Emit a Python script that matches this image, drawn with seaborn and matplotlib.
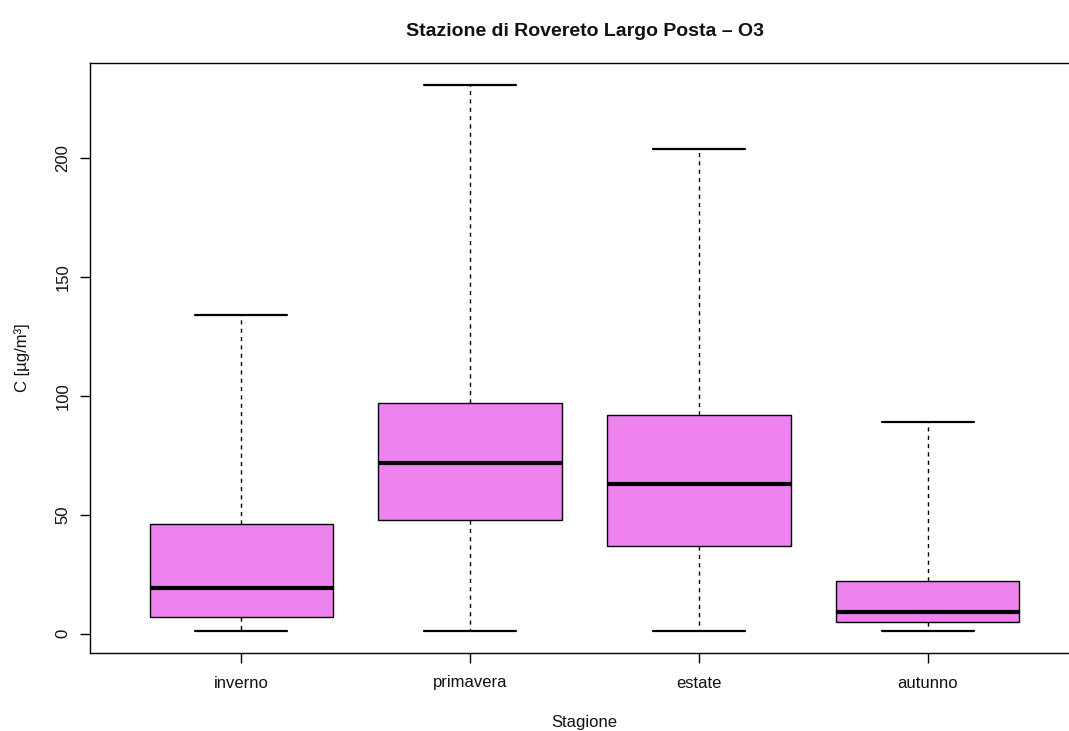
import pandas as pd
import matplotlib.pyplot as plt
import seaborn as sns

# Riassunto a cinque numeri per stagione (O3, µg/m³)
stagioni = ['inverno', 'primavera', 'estate', 'autunno']
minimi = [1, 1, 1, 1]
primo_quartile = [7, 48, 37, 5]
mediane = [19, 72, 63, 9]
terzo_quartile = [46, 97, 92, 22]
massimi = [134, 231, 204, 89]

sns.set_theme(style="ticks")
plt.rcParams['font.family'] = ['Liberation Sans', 'DejaVu Sans']

righe = []
for i, s in enumerate(stagioni):
    for v in (minimi[i], primo_quartile[i], mediane[i], terzo_quartile[i], massimi[i]):
        righe.append({'Stagione': s, 'C': v})
df = pd.DataFrame(righe)

fig = plt.figure(figsize=(10.69, 7.31), dpi=100)
ax = fig.add_axes([90 / 1069, 78 / 731, 989 / 1069, 590 / 731])

sns.boxplot(data=df, x='Stagione', y='C', order=stagioni, ax=ax,
            color='violet', width=0.8, whis=(0, 100), showfliers=False,
            linecolor='black', linewidth=1, saturation=1,
            boxprops=dict(edgecolor='black', linewidth=1),
            medianprops=dict(color='black', linewidth=3),
            whiskerprops=dict(color='black', linestyle=(0, (3, 3)), linewidth=1),
            capprops=dict(color='black', linewidth=1.6))

ax.set_xlim(-0.66, 3.66)
ax.set_ylim(-8.2, 240.2)
ax.set_yticks([0, 50, 100, 150, 200])
for sp in ax.spines.values():
    sp.set_visible(True)
    sp.set_color('black')
    sp.set_linewidth(1)
ax.tick_params(axis='both', length=7.2, width=1, color='black', labelsize=12, labelcolor='#111111')
ax.tick_params(axis='y', labelrotation=90, pad=7)
ax.tick_params(axis='x', pad=9)
for lab in ax.get_yticklabels():
    lab.set_va('center')

ax.set_xlabel('Stagione', fontsize=12, va='center', color='#111111')
ax.xaxis.set_label_coords(0.5 * (1069 - 90 + 90) / 989 - 0.0, -70 / 590)
ax.xaxis.label.set_x((584.5 - 90) / 989)
ax.set_ylabel('C [µg/m³]', fontsize=12, va='center', color='#111111')
ax.yaxis.set_label_coords((22 - 90) / 989, 0.5)
fig.text(584.5 / 1069, 1 - 32 / 731, 'Stazione di Rovereto Largo Posta – O3',
         ha='center', va='center', fontsize=14, fontweight='bold', color='#111111')

fig.savefig('out.png', dpi=100)
